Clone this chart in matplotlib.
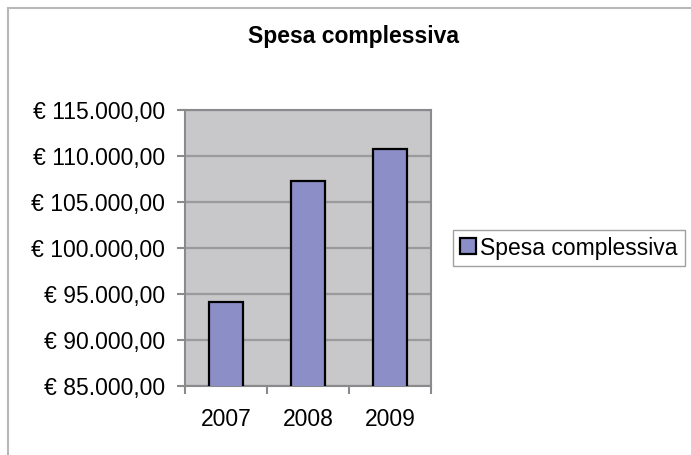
"""Spesa complessiva per anno - istogramma in stile Excel."""

import matplotlib

matplotlib.use('Agg')
import matplotlib.pyplot as plt
import matplotlib.patches as mpatches
from matplotlib.ticker import FuncFormatter, MultipleLocator
import numpy as np

# ── Dati ─────────────────────────────────────────────────────────────────────
ANNI = ['2007', '2008', '2009']
SPESA = [94150, 107280, 110750]
SERIE = 'Spesa complessiva'

Y_MIN, Y_MAX, Y_STEP = 85000, 115000, 5000

# ── Stile ────────────────────────────────────────────────────────────────────
COLOR_BAR = '#8c8ec8'
COLOR_PLOT_BG = '#c8c8ca'
COLOR_GRID = '#9a9a9c'
COLOR_AXIS = '#8a8a8c'
FS = 16.5

plt.rcParams['font.family'] = ['Liberation Sans', 'DejaVu Sans']


def _euro(v, _pos):
    """Formato italiano: € 115.000,00"""
    s = f'{v:,.2f}'.replace(',', 'X').replace('.', ',').replace('X', '.')
    return f'€ {s}'


fig = plt.figure(figsize=(6.91, 4.55), dpi=100)
fig.patch.set_facecolor('white')

# cornice esterna del grafico
frame = mpatches.Rectangle(
    (8 / 691, -0.05), 1.2, (455 - 8) / 455 + 0.05,
    transform=fig.transFigure, facecolor='none',
    edgecolor='#b8b8b8', linewidth=1.5, clip_on=False,
)
fig.add_artist(frame)

ax = fig.add_axes([185 / 691, 69 / 455, 246 / 691, 276 / 455])
ax.set_facecolor(COLOR_PLOT_BG)

x = np.arange(len(ANNI))
ax.bar(x, SPESA, width=0.42, color=COLOR_BAR, edgecolor='black',
       linewidth=1.6, label=SERIE, zorder=3)

ax.set_xlim(-0.5, len(ANNI) - 0.5)
ax.set_ylim(Y_MIN, Y_MAX)
ax.yaxis.set_major_locator(MultipleLocator(Y_STEP))
ax.yaxis.set_major_formatter(FuncFormatter(_euro))
ax.grid(True, axis='y', color=COLOR_GRID, linewidth=1.6, zorder=1)
ax.set_axisbelow(True)

# tick x ai bordi delle categorie, etichette al centro
ax.set_xticks(np.arange(-0.5, len(ANNI)), minor=False)
ax.set_xticklabels([])
ax.set_xticks(x, minor=True)
ax.set_xticklabels(ANNI, minor=True)
ax.tick_params(axis='x', which='minor', length=0, pad=16, labelsize=FS)
ax.tick_params(axis='x', which='major', length=6, width=1.5, color=COLOR_AXIS)
ax.tick_params(axis='y', length=6, width=1.5, color=COLOR_AXIS, pad=8.5,
               labelsize=FS)

for spine in ax.spines.values():
    spine.set_color(COLOR_AXIS)
    spine.set_linewidth(1.5)

fig.text(353 / 691, 1 - 37 / 455, SERIE, ha='center', va='center',
         fontsize=FS, fontweight='bold')

leg = fig.legend(
    loc='center left', bbox_to_anchor=(453 / 691, 1 - 248 / 455),
    fontsize=FS, frameon=True, fancybox=False, edgecolor='#888888',
    handlelength=0.7, handleheight=0.7, handletextpad=0.2,
    borderpad=0.3, borderaxespad=0,
)
leg.get_frame().set_linewidth(1.0)

fig.savefig('out.png', dpi=100)
